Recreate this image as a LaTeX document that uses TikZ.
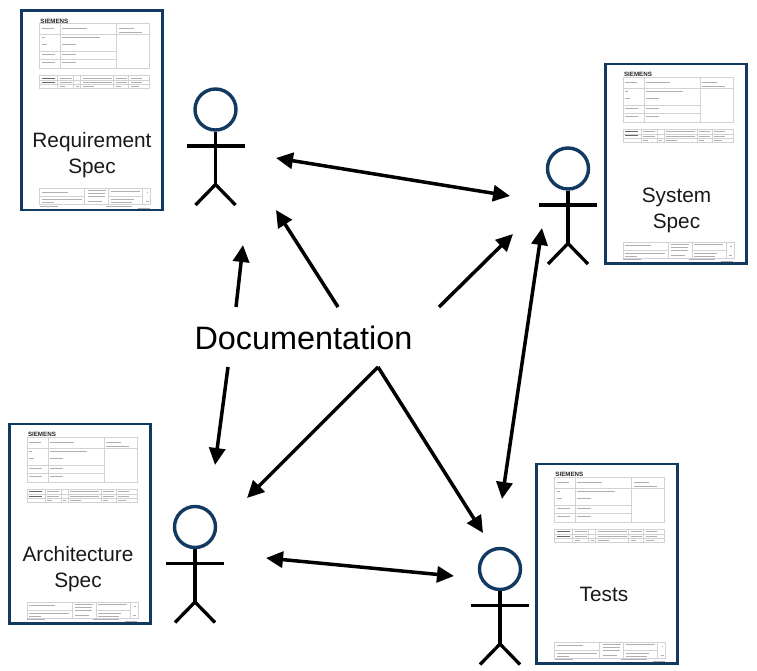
\documentclass[tikz,border=0pt]{standalone}
\usepackage{fontspec}
\setmainfont{Liberation Sans}
\usetikzlibrary{arrows.meta}
\definecolor{navy}{HTML}{12395F}
\definecolor{rulegrey}{HTML}{D2D2D2}
\definecolor{inkgrey}{HTML}{B0B0B0}
\tikzset{
  x=1pt,y=-1pt,
  docbox/.style={draw=navy,line width=2.6pt,fill=white,minimum width=141pt,minimum height=199.3pt,inner sep=0pt,outer sep=0pt,rectangle},
  formrule/.style={draw=rulegrey,line width=.8pt},
  forminkmark/.style={draw=inkgrey,line width=.9pt},
  forminkdark/.style={draw=black!60,line width=1pt},
  headcircle/.style={draw=navy,line width=3.4pt,fill=white,circle,minimum size=41pt,inner sep=0pt},
  limb/.style={draw=black,line width=3.3pt},
  link/.style={draw=black,line width=3.5pt,-{Triangle[length=17pt,width=16pt]}},
  linkboth/.style={draw=black,line width=3.5pt,{Triangle[length=17pt,width=16pt]}-{Triangle[length=17pt,width=16pt]}},
  speclabel/.style={font=\fontsize{20.8}{25.7}\selectfont,align=center,inner sep=0pt,text=black!90},
  centrelabel/.style={font=\fontsize{32.4}{38}\selectfont,inner sep=0pt,text=black}
}
% document sheet: #1 name, #2 left, #3 top
\newcommand{\specsheet}[3]{%
  \node[docbox,anchor=north west] (#1) at (#2,#3) {};
  \begin{scope}[shift={(#2,#3)}]
    \node[anchor=west,inner sep=0pt,font=\bfseries\fontsize{6.2}{6}\selectfont,text=black!85] (#1title) at (18.5,10.5) {SIEMENS};
    % top form
    \draw[formrule] (18,13) rectangle (128,58);
    \draw[formrule] (95,13) -- (95,58) (18,24) -- (128,24);
    \draw[formrule] (18,41)--(95,41) (18,49)--(95,49);
    \draw[formrule] (39,13) -- (39,58);
    \draw[forminkmark] (20,18)--(32,18) (40.5,18)--(65,18) (97,18)--(112,18) (97,22)--(120,22);
    \draw[forminkmark] (20,27)--(23,27) (40.5,27)--(78,27) (20,34)--(25,34) (40.5,34)--(54,34);
    \draw[forminkmark] (20,44)--(33,44) (40.5,44)--(54,44) (20,52)--(33,52) (40.5,52)--(54,52);
    % middle form
    \draw[formrule] (18,65) rectangle (128,78);
    \draw[formrule] (18,70)--(128,70) (18,74)--(128,74);
    \draw[formrule] (36,65)--(36,78) (52,65)--(52,78) (59,65)--(59,78) (92,65)--(92,78) (107,65)--(107,78);
    \draw[forminkdark] (20,67.5)--(33,67.5) (20,72)--(33,72);
    \draw[forminkmark] (38,67.5)--(50,67.5) (38,72)--(50,72) (61,67.5)--(90,67.5) (61,72)--(90,72) (94,67.5)--(105,67.5) (94,72)--(105,72) (109,67.5)--(120,67.5) (109,72)--(120,72);
    \draw[forminkmark] (38,76)--(43,76) (54,76)--(57,76) (61,76)--(72,76) (94,76)--(99,76) (109,76)--(117,76);
    % bottom form
    \draw[formrule] (18,178) rectangle (129,194);
    \draw[formrule] (18,186)--(63,186) (63,178)--(63,194) (87,178)--(87,194) (121,178)--(121,194) (87,186)--(121,186);
    \draw[forminkmark] (20,181.5)--(46,181.5) (20,189)--(60,189) (20,192)--(32,192) (66,180)--(84,180) (66,183)--(83,183) (66,186)--(83,186) (66,191)--(80,191);
    \draw[forminkmark] (89,180.5)--(118,180.5) (89,189)--(112,189) (89,192)--(110,192) (125,182)--(126.5,182) (124,191)--(127,191);
    \draw[forminkmark,line width=.6pt] (18,195.5)--(36,195.5) (84,195.5)--(110,195.5) (116,197.5)--(128,197.5);
  \end{scope}
}
% stick figure: #1 name, #2 head centre x, #3 head centre y
\newcommand{\stickfigure}[3]{%
  \node[headcircle] (#1) at (#2,#3) {};
  \begin{scope}[shift={(#2,#3)}]
    \coordinate (#1armL) at (-29,36.5);
    \coordinate (#1armR) at (29,36.5);
    \coordinate (#1hip) at (0,75);
    \coordinate (#1footL) at (-20,95.5);
    \coordinate (#1footR) at (20,95.5);
  \end{scope}
  \draw[limb] (#1.south) -- (#1hip);
  \draw[limb] (#1armL) -- (#1armR);
  \draw[limb] (#1footL) -- (#1hip) -- (#1footR);
}
\begin{document}
\begin{tikzpicture}
\useasboundingbox (0,0) rectangle (757,671);
\fill[white] (0,0) rectangle (757,671);
\specsheet{reqdoc}{21.7}{10.7}
\specsheet{sysdoc}{605.3}{64}
\specsheet{archdoc}{9.3}{424}
\specsheet{testdoc}{536.7}{464}
\node[speclabel] (reqlabel) at (92,155) {Requirement\\Spec};
\node[speclabel] (syslabel) at (676.5,210.5) {System\\Spec};
\node[speclabel] (archlabel) at (78,569) {Architecture\\Spec};
\node[speclabel] (testlabel) at (604,594) {Tests};
\stickfigure{pa}{215.5}{109.5}
\stickfigure{pb}{568}{168.5}
\stickfigure{pc}{195}{527}
\stickfigure{pd}{500}{569}
\node[centrelabel] (docs) at (303.5,338) {Documentation};
% arrow ends
\coordinate (aE) at (276,158);
\coordinate (bW) at (510,196);
\coordinate (aS) at (276,210);
\coordinate (aSS) at (243,245);
\coordinate (cN) at (215,465);
\coordinate (bSW) at (513,234);
\coordinate (cNE) at (247,498);
\coordinate (dNW) at (483,533);
\coordinate (bS) at (542,228);
\coordinate (dN) at (502,499);
\coordinate (cE) at (266,558);
\coordinate (dW) at (454,576);
\coordinate (n1) at (338,307);
\coordinate (n2) at (236,307);
\coordinate (n3) at (228,367);
\coordinate (n4) at (439,307);
\coordinate (n5) at (378,367);
\draw[linkboth] (aE) -- (bW);
\draw[linkboth] (bS) -- (dN);
\draw[linkboth] (cE) -- (dW);
\draw[link] (n1) -- (aS);
\draw[link] (n2) -- (aSS);
\draw[link] (n3) -- (cN);
\draw[link] (n4) -- (bSW);
\draw[link] (n5) -- (cNE);
\draw[link] (n5) -- (dNW);
\end{tikzpicture}
\end{document}
